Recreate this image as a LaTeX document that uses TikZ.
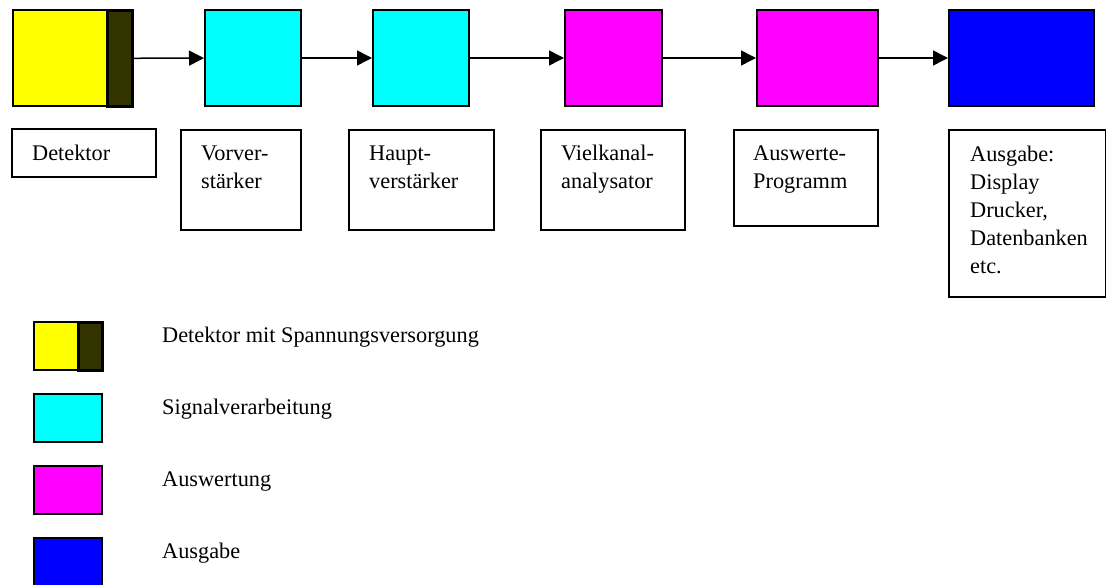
\documentclass[tikz,border=0pt]{standalone}
\usepackage{fontspec}
\setmainfont{Liberation Serif}
\usetikzlibrary{arrows.meta}
\definecolor{hvolive}{HTML}{333300}
\definecolor{detyellow}{HTML}{FFFF00}
\definecolor{sigcyan}{HTML}{00FFFF}
\definecolor{auswmagenta}{HTML}{FF00FF}
\definecolor{outblue}{HTML}{0000FF}
\begin{document}
\begin{tikzpicture}[x=1pt,y=-1pt,font=\fontsize{22.3}{28}\selectfont,
 blk/.style={draw,line width=2pt,anchor=north west,inner sep=0,minimum height=96pt},
 lbl/.style={draw,line width=1.6pt,anchor=north west,inner sep=0},
 txt/.style={anchor=base west,align=left,inner sep=0},
 sig/.style={line width=1.5pt,-{Triangle[length=15pt,width=15pt]}},
 key/.style={draw,line width=2pt,anchor=north west,inner sep=0,minimum height=48pt}]
\useasboundingbox(0,0)rectangle(1106,585);
\node[blk,fill=detyellow,minimum width=94pt](det)at(12,9){};
\node[blk,fill=hvolive,minimum width=25pt,line width=2.6pt](hv)at(106,9){};
\node[blk,fill=sigcyan,minimum width=96pt](vv)at(204,9){};
\node[blk,fill=sigcyan,minimum width=96pt](hpv)at(372,9){};
\node[blk,fill=auswmagenta,minimum width=97pt](mca)at(564,9){};
\node[blk,fill=auswmagenta,minimum width=121pt](prog)at(756,9){};
\node[blk,fill=outblue,minimum width=145pt](out)at(948,9){};
\draw[sig](hv)--(vv);
\draw[sig](vv)--(hpv);
\draw[sig](hpv)--(mca);
\draw[sig](mca)--(prog);
\draw[sig](prog)--(out);
\node[lbl,minimum width=144pt,minimum height=48pt](ldet)at(11,128){};
\node[lbl,minimum width=120pt,minimum height=100pt](lvv)at(180,129){};
\node[lbl,minimum width=145pt,minimum height=100pt](lhpv)at(348,129){};
\node[lbl,minimum width=144pt,minimum height=100pt](lmca)at(540,129){};
\node[lbl,minimum width=144pt,minimum height=96pt](lprog)at(733,129){};
\node[lbl,minimum width=157pt,minimum height=167pt](lout)at(948,129){};
\node[txt]at([shift={(21,33)}]ldet.north west){Detektor};
\node[txt]at([shift={(21,60)}]lvv.north west){Vorver-\\stärker};
\node[txt]at([shift={(21,60)}]lhpv.north west){Haupt-\\verstärker};
\node[txt]at([shift={(21,60)}]lmca.north west){Vielkanal-\\analysator};
\node[txt]at([shift={(20,60)}]lprog.north west){Auswerte-\\Programm};
\node[txt]at([shift={(22,145)}]lout.north west){Ausgabe:\\Display\\Drucker,\\Datenbanken\\etc.};
\node[key,fill=detyellow,minimum width=44pt](kdet)at(33,321){};
\node[key,fill=hvolive,minimum width=24pt,line width=2.6pt](khv)at(77,321){};
\node[key,fill=sigcyan,minimum width=68pt](ksig)at(33,393){};
\node[key,fill=auswmagenta,minimum width=68pt](kausw)at(33,465){};
\node[key,fill=outblue,minimum width=68pt](kout)at(33,537){};
\node[txt](tdet)at(162,343){Detektor mit Spannungsversorgung};
\node[txt](tsig)at(162,414){Signalverarbeitung};
\node[txt](tausw)at(162,486){Auswertung};
\node[txt](tout)at(162,558){Ausgabe};
\end{tikzpicture}
\end{document}
